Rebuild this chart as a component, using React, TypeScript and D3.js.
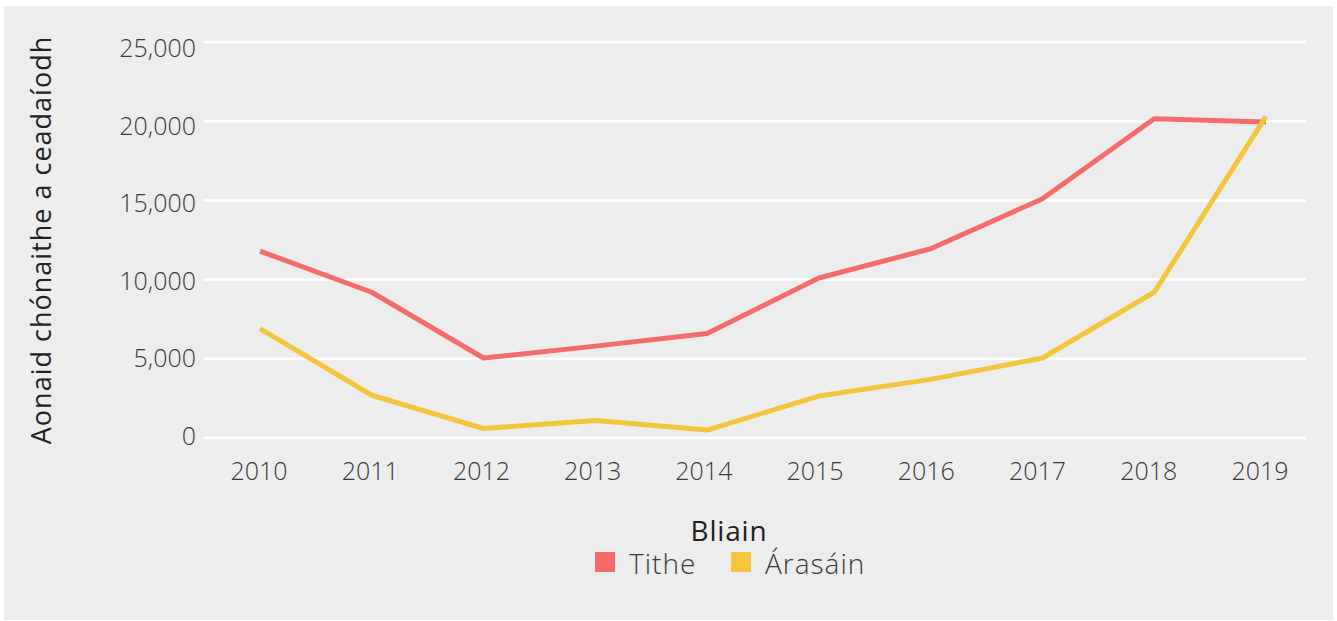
import React from "react";
import * as d3 from "d3";

const years = [2010, 2011, 2012, 2013, 2014, 2015, 2016, 2017, 2018, 2019];
const tithe = [11800, 9200, 5050, 5800, 6600, 10100, 11950, 15100, 20150, 19950];
const arasain = [6900, 2700, 600, 1100, 500, 2650, 3700, 5050, 9200, 20300];
const yTicks = [0, 5000, 10000, 15000, 20000, 25000];
const seriesNames = ["Tithe", "Árasáin"];
const seriesColors = ["#F46D6B", "#F4C63E"];

const W = 1337;
const H = 621;
const FONT = "'Open Sans', sans-serif";

export default function App() {
  const xLabel = d3.scaleLinear().domain([2010, 2019]).range([259, 1260]);
  const xLine = d3.scaleLinear().domain([2010, 2019]).range([260, 1266]);
  const y = d3.scaleLinear().domain([0, 25000]).range([438, 42]);
  const yLabel = d3.scaleLinear().domain([0, 25000]).range([436, 48.5]);
  const fmt = d3.format(",");
  const line = d3
    .line<number>()
    .x((_, i) => xLine(years[i]))
    .y((d) => y(d));
  const series = [tithe, arasain];

  return (
    <svg
      width={W}
      height={H}
      style={{ position: "absolute", left: 0, top: 0, background: "#ffffff" }}
    >
      <rect x={4} y={6} width={1329} height={614} fill="#ededed" />
      {yTicks.map((t) => (
        <g key={t}>
          <line x1={204} x2={1306} y1={y(t)} y2={y(t)} stroke="#ffffff" strokeWidth={2.5} />
          <text
            x={196}
            y={yLabel(t)}
            dy="0.35em"
            textAnchor="end"
            fontFamily={FONT}
            fontSize={25}
            fontWeight={300}
            fill="#3a3a3a"
          >
            {fmt(t)}
          </text>
        </g>
      ))}
      {years.map((yr) => (
        <text
          key={yr}
          x={xLabel(yr)}
          y={471}
          dy="0.35em"
          textAnchor="middle"
          fontFamily={FONT}
          fontSize={25}
          fontWeight={300}
          fill="#3a3a3a"
        >
          {yr}
        </text>
      ))}
      {series.map((s, i) => (
        <path
          key={i}
          d={line(s) || ""}
          fill="none"
          stroke={seriesColors[i]}
          strokeWidth={5}
          strokeLinejoin="round"
        />
      ))}
      <text
        transform="translate(42,240) rotate(-90)"
        dy="0.35em"
        textAnchor="middle"
        fontFamily={FONT}
        fontSize={27}
        letterSpacing={1}
        fill="#222"
      >
        Aonaid chónaithe a ceadaíodh
      </text>
      <text
        x={729}
        y={540.5}
        textAnchor="middle"
        fontFamily={FONT}
        fontSize={28}
        letterSpacing={0.8}
        fill="#222"
      >
        Bliain
      </text>
      {seriesNames.map((n, i) => {
        const kx = i === 0 ? 595 : 731;
        return (
          <g key={n}>
            <rect x={kx} y={552} width={20} height={20} fill={seriesColors[i]} />
            <text
              x={kx + 34}
              y={574}
              fontFamily={FONT}
              fontSize={28}
              letterSpacing={1}
              fontWeight={300}
              fill="#3a3a3a"
            >
              {n}
            </text>
          </g>
        );
      })}
    </svg>
  );
}
